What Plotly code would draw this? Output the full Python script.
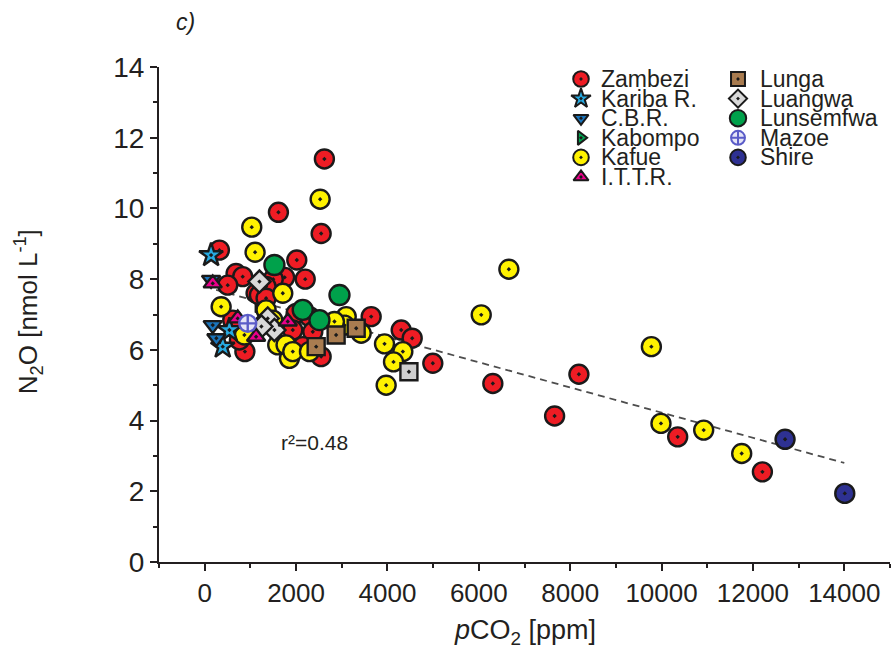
import plotly.graph_objects as go

# ---- data: pCO2 (ppm) and N2O (nmol/L) per river / reservoir ----
zambezi_x = [2620, 1614, 2549, 322, 2016, 687, 832, 504, 1750, 2200, 1500, 1344, 1125, 1198,
             1344, 2002, 2293, 1928, 2366, 2146, 2549, 3644, 4301, 4542, 4993, 6307, 8191,
             7659, 10353, 12207, 614, 880, 760]
zambezi_y = [11.4, 9.89, 9.29, 8.82, 8.54, 8.16, 8.07, 7.83, 8.05, 8.0, 8.0, 7.79, 7.6, 7.55,
             7.46, 7.03, 6.94, 6.56, 6.51, 6.09, 5.81, 6.94, 6.56, 6.33, 5.62, 5.05, 5.31,
             4.13, 3.54, 2.55, 6.84, 5.95, 6.28]

kafue_x = [2527, 1030, 1103, 1709, 360, 3098, 3425, 1344, 1490, 869, 1599, 1855, 1782, 1928,
           2293, 3059, 2840, 3936, 4337, 4133, 3972, 6658, 6053, 9777, 9987, 10922, 11754]
kafue_y = [10.26, 9.47, 8.76, 7.6, 7.22, 6.94, 6.47, 7.13, 6.84, 6.42, 6.14, 5.76, 6.14, 5.95,
           5.95, 6.70, 6.80, 6.17, 5.95, 5.66, 5.0, 8.28, 6.99, 6.09, 3.92, 3.73, 3.07]

kariba_x = [140, 541, 395]
kariba_y = [8.68, 6.56, 6.09]

cbr_x = [140, 176, 256]
cbr_y = [7.98, 6.70, 6.33]

kabompo_x = [1200]
kabompo_y = [7.3]

ittr_x = [176, 723, 1125, 1818]
ittr_y = [7.88, 6.89, 6.37, 6.80]

lunga_x = [3316, 2877, 2440]
lunga_y = [6.61, 6.42, 6.09]

luangwa_x = [1198, 1380, 1526, 1242]
luangwa_y = [7.93, 6.89, 6.56, 6.66]

luangwa_sq_x = [4470]
luangwa_sq_y = [5.38]

lunsemfwa_x = [1526, 2950, 2146, 2512]
lunsemfwa_y = [8.4, 7.55, 7.13, 6.84]

mazoe_x = [942]
mazoe_y = [6.75]

shire_x = [12703, 14010]
shire_y = [3.47, 1.94]

# linear fit N2O = a + b * pCO2 (r^2 = 0.48)
fit_intercept = 7.785
fit_slope = -0.000356
fit_x = [250, 14000]

x_ticks = [0, 2000, 4000, 6000, 8000, 10000, 12000, 14000]
y_ticks = [0, 2, 4, 6, 8, 10, 12, 14]

legend_col1 = ["Zambezi", "Kariba R.", "C.B.R.", "Kabompo", "Kafue", "I.T.T.R."]
legend_col2 = ["Lunga", "Luangwa", "Lunsemfwa", "Mazoe", "Shire"]

# ---- marker styles ----
EDGE = "#1a1a1a"
styles = {
    "Zambezi":   dict(symbol="circle-dot", color="#ee1c24", size=19),
    "Kariba R.": dict(symbol="star-dot", color="#27aae1", size=18),
    "C.B.R.":    dict(symbol="triangle-down-dot", color="#1b75bb", size=16),
    "Kabompo":   dict(symbol="triangle-right-dot", color="#00a651", size=15),
    "Kafue":     dict(symbol="circle-dot", color="#fff200", size=19),
    "I.T.T.R.":  dict(symbol="triangle-up-dot", color="#ec008c", size=16),
    "Lunga":     dict(symbol="square-dot", color="#a97c50", size=17),
    "Luangwa":   dict(symbol="diamond-dot", color="#d9d9d9", size=17),
    "Lunsemfwa": dict(symbol="circle", color="#00a14b", size=20),
    "Mazoe":     dict(symbol="circle-cross", color="#e4e4f7", size=17),
    "Shire":     dict(symbol="circle-dot", color="#2e3192", size=19),
}
edge_color = {"Mazoe": "#5a5cc8"}

# drawing order, back to front
series = [
    ("Kabompo", kabompo_x, kabompo_y),
    ("Zambezi", zambezi_x, zambezi_y),
    ("Kafue", kafue_x, kafue_y),
    ("Lunsemfwa", lunsemfwa_x, lunsemfwa_y),
    ("Lunga", lunga_x, lunga_y),
    ("Luangwa", luangwa_x, luangwa_y),
    ("Kariba R.", kariba_x, kariba_y),
    ("C.B.R.", cbr_x, cbr_y),
    ("I.T.T.R.", ittr_x, ittr_y),
    ("Mazoe", mazoe_x, mazoe_y),
    ("Shire", shire_x, shire_y),
]

fig = go.Figure()

# regression line
fig.add_trace(go.Scatter(
    x=fit_x, y=[fit_intercept + fit_slope * v for v in fit_x],
    mode="lines", line=dict(color="#4d4d4d", width=1.8, dash="7px,5px"),
    showlegend=False, hoverinfo="skip"))

for name, xs, ys in series:
    st = styles[name]
    fig.add_trace(go.Scatter(
        x=xs, y=ys, mode="markers", name=name, showlegend=False,
        marker=dict(symbol=st["symbol"], color=st["color"], size=st["size"],
                    line=dict(color=edge_color.get(name, EDGE), width=2.4))))

# grey square sample drawn with the Luangwa group
fig.add_trace(go.Scatter(
    x=luangwa_sq_x, y=luangwa_sq_y, mode="markers", showlegend=False,
    marker=dict(symbol="square-dot", color="#cfcfcf", size=17,
                line=dict(color=EDGE, width=2.4))))

# ---- hand-built two-column key on an overlay pixel frame ----
PLOT_W, PLOT_H = 731, 495
ROW0, ROW_STEP = 483, 19.6
col_defs = [(legend_col1, 422, 440), (legend_col2, 579, 599)]
LEGEND_FONT = dict(family="Liberation Sans, Arial, sans-serif", size=23, color="#231f20")
for names, mx, tx in col_defs:
    for i, name in enumerate(names):
        yy = ROW0 - i * ROW_STEP
        st = styles[name]
        fig.add_trace(go.Scatter(
            x=[mx], y=[yy], xaxis="x2", yaxis="y2", mode="markers", showlegend=False,
            hoverinfo="skip",
            marker=dict(symbol=st["symbol"], color=st["color"],
                        size=st["size"] * 0.82,
                        line=dict(color=edge_color.get(name, EDGE), width=2))))
        fig.add_annotation(x=tx, y=yy, xref="x2", yref="y2", text=name,
                           showarrow=False, xanchor="left", yanchor="middle",
                           font=LEGEND_FONT)

AX_COLOR = "#231f20"
TICK_FONT = "Liberation Sans, Arial, sans-serif"

fig.update_layout(
    width=892, height=648,
    margin=dict(l=159, r=2, t=67, b=86),
    paper_bgcolor="white", plot_bgcolor="white",
    showlegend=False,
    xaxis=dict(range=[-1000, 15000], tickvals=x_ticks, tickformat="d",
               ticks="outside", ticklen=7,
               tickwidth=2, tickcolor=AX_COLOR, showline=True, linewidth=2,
               linecolor=AX_COLOR, showgrid=False, zeroline=False,
               tickfont=dict(family=TICK_FONT, size=26, color=AX_COLOR),
               minor=dict(dtick=1000, tick0=-1000, ticks="outside", ticklen=4,
                          tickwidth=2, tickcolor=AX_COLOR, showgrid=False)),
    yaxis=dict(range=[0, 14], tickvals=y_ticks, ticks="outside", ticklen=7,
               tickwidth=2, tickcolor=AX_COLOR, showline=True, linewidth=2,
               linecolor=AX_COLOR, showgrid=False, zeroline=False,
               tickfont=dict(family=TICK_FONT, size=28, color=AX_COLOR),
               minor=dict(dtick=1, tick0=0, ticks="outside", ticklen=4,
                          tickwidth=2, tickcolor=AX_COLOR, showgrid=False)),
    xaxis2=dict(overlaying="x", range=[0, PLOT_W], visible=False, fixedrange=True),
    yaxis2=dict(overlaying="y", range=[0, PLOT_H], visible=False, fixedrange=True),
)

# axis titles, panel tag and fit statistic
fig.add_annotation(x=0.5007, y=-0.141, xref="paper", yref="paper",
                   text="<i>p</i>CO<sub>2</sub> [ppm]", showarrow=False,
                   xanchor="center", yanchor="middle",
                   font=dict(family=TICK_FONT, size=27, color=AX_COLOR))
fig.add_annotation(x=-0.179, y=0.505, xref="paper", yref="paper",
                   text="N<sub>2</sub>O [nmol L<sup>-1</sup>]", showarrow=False,
                   textangle=-90, xanchor="center", yanchor="middle",
                   font=dict(family=TICK_FONT, size=26, color=AX_COLOR))
fig.add_annotation(x=0.036, y=1.09, xref="paper", yref="paper",
                   text="<i>c)</i>", showarrow=False, xanchor="center", yanchor="middle",
                   font=dict(family=TICK_FONT, size=23, color=AX_COLOR))
fig.add_annotation(x=2410, y=3.39, xref="x", yref="y", text="r²=0.48",
                   showarrow=False, xanchor="center", yanchor="middle",
                   font=dict(family=TICK_FONT, size=21, color=AX_COLOR))

fig.write_html("out.html")
